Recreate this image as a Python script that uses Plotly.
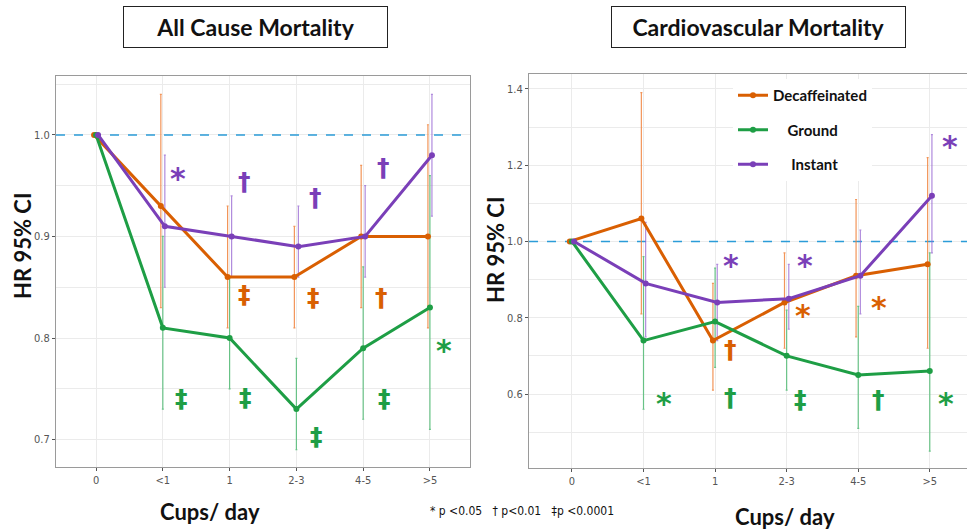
import plotly.graph_objects as go

categories = ['0', '<1', '1', '2-3', '4-5', '>5']
series_names = ['Decaffeinated', 'Ground', 'Instant']
colors = {'Decaffeinated': '#d95f02', 'Ground': '#1e9e45', 'Instant': '#7a3fb8'}
bar_colors = {'Decaffeinated': 'rgba(240,130,60,0.85)', 'Ground': 'rgba(60,180,100,0.75)', 'Instant': 'rgba(150,100,210,0.75)'}

# All cause mortality
ac_decaf = [1.0, 0.93, 0.86, 0.86, 0.90, 0.90]
ac_decaf_lo = [1.0, 0.83, 0.81, 0.81, 0.83, 0.81]
ac_decaf_hi = [1.0, 1.04, 0.93, 0.91, 0.97, 1.01]
ac_ground = [1.0, 0.81, 0.80, 0.73, 0.79, 0.83]
ac_ground_lo = [1.0, 0.73, 0.75, 0.69, 0.72, 0.71]
ac_ground_hi = [1.0, 0.90, 0.86, 0.78, 0.87, 0.96]
ac_instant = [1.0, 0.91, 0.90, 0.89, 0.90, 0.98]
ac_instant_lo = [1.0, 0.85, 0.86, 0.86, 0.86, 0.92]
ac_instant_hi = [1.0, 0.98, 0.94, 0.93, 0.95, 1.04]

# Cardiovascular mortality
cv_decaf = [1.0, 1.06, 0.74, 0.84, 0.91, 0.94]
cv_decaf_lo = [1.0, 0.81, 0.61, 0.72, 0.75, 0.72]
cv_decaf_hi = [1.0, 1.39, 0.89, 0.97, 1.11, 1.22]
cv_ground = [1.0, 0.74, 0.79, 0.70, 0.65, 0.66]
cv_ground_lo = [1.0, 0.56, 0.67, 0.61, 0.51, 0.45]
cv_ground_hi = [1.0, 0.96, 0.93, 0.82, 0.83, 0.97]
cv_instant = [1.0, 0.89, 0.84, 0.85, 0.91, 1.12]
cv_instant_lo = [1.0, 0.75, 0.74, 0.77, 0.81, 0.97]
cv_instant_hi = [1.0, 1.05, 0.94, 0.94, 1.03, 1.28]

# significance markers: (series, x position in category units, y value, symbol)
ac_sig = [
    ('Instant', 1.22, 0.964, '*'), ('Instant', 2.23, 0.954, '†'),
    ('Instant', 3.28, 0.938, '†'), ('Instant', 4.30, 0.968, '†'),
    ('Decaffeinated', 2.22, 0.843, '‡'), ('Decaffeinated', 3.25, 0.840, '‡'),
    ('Decaffeinated', 4.27, 0.840, '†'),
    ('Ground', 5.21, 0.795, '*'), ('Ground', 1.28, 0.740, '‡'),
    ('Ground', 2.24, 0.741, '‡'), ('Ground', 3.30, 0.703, '‡'),
    ('Ground', 4.32, 0.740, '‡'),
]
cv_sig = [
    ('Instant', 5.28, 1.266, '*'), ('Instant', 2.22, 0.955, '*'),
    ('Instant', 3.26, 0.954, '*'),
    ('Decaffeinated', 3.23, 0.824, '*'), ('Decaffeinated', 4.29, 0.846, '*'),
    ('Decaffeinated', 2.21, 0.717, '†'),
    ('Ground', 1.29, 0.593, '*'), ('Ground', 2.21, 0.591, '†'),
    ('Ground', 3.19, 0.586, '‡'), ('Ground', 4.29, 0.586, '†'),
    ('Ground', 5.23, 0.593, '*'),
]

dodge = {'Decaffeinated': -0.03, 'Ground': 0.0, 'Instant': 0.03}
legend_labels = {'Decaffeinated': '<b>Decaffeinated</b>',
                 'Ground': '<b>\u00a0\u00a0\u00a0\u00a0Ground</b>',
                 'Instant': '<b>\u00a0\u00a0\u00a0\u00a0\u00a0Instant</b>'}

panels = [
    ('x', 'y', [-0.6, 5.6], {'Decaffeinated': (ac_decaf, ac_decaf_lo, ac_decaf_hi),
                'Ground': (ac_ground, ac_ground_lo, ac_ground_hi),
                'Instant': (ac_instant, ac_instant_lo, ac_instant_hi)}, ac_sig, False),
    ('x2', 'y2', [-0.6, 5.52], {'Decaffeinated': (cv_decaf, cv_decaf_lo, cv_decaf_hi),
                  'Ground': (cv_ground, cv_ground_lo, cv_ground_hi),
                  'Instant': (cv_instant, cv_instant_lo, cv_instant_hi)}, cv_sig, True),
]

fig = go.Figure()
annotations = []
for xa, ya, xr, data, sig, show in panels:
    # reference line at HR = 1
    fig.add_trace(go.Scatter(x=xr, y=[1.0, 1.0], mode='lines', xaxis=xa, yaxis=ya,
                             line=dict(color='#2b9cd8', width=1.5, dash='dash'),
                             showlegend=False, hoverinfo='skip'))
    # error bars first
    for name in series_names:
        vals, lo, hi = data[name]
        xs = [i + dodge[name] for i in range(len(categories))]
        fig.add_trace(go.Scatter(
            x=xs, y=vals, mode='markers', xaxis=xa, yaxis=ya,
            marker=dict(size=1, color='rgba(0,0,0,0)'),
            error_y=dict(type='data', symmetric=False,
                         array=[h - v for h, v in zip(hi, vals)],
                         arrayminus=[v - l for v, l in zip(vals, lo)],
                         color=bar_colors[name], thickness=1.2, width=1),
            showlegend=False, hoverinfo='skip'))
    for name in series_names:
        vals, lo, hi = data[name]
        xs = [i + dodge[name] for i in range(len(categories))]
        fig.add_trace(go.Scatter(
            x=xs, y=vals, mode='lines+markers', xaxis=xa, yaxis=ya,
            name=legend_labels[name], legendgroup=name,
            line=dict(color=colors[name], width=3),
            marker=dict(color=colors[name], size=6),
            showlegend=show))
    for name, xv, yv, sym in sig:
        if sym == '*':
            f = dict(family='DejaVu Sans', size=30, color=colors[name])
            shift = -7
        else:
            f = dict(family='DejaVu Sans', size=25, color=colors[name])
            shift = 0
        annotations.append(dict(
            x=xv, y=yv, xref=xa, yref=ya, text='<b>%s</b>' % sym, showarrow=False,
            xanchor='center', yanchor='middle', font=f, yshift=shift))

W, H = 967, 530
def px(x):
    return x / W
def py(y):
    return 1 - y / H

tick_font = dict(family='Liberation Sans Narrow, DejaVu Sans Condensed, Arial Narrow', size=11, color='#555555')
grid = '#ebebeb'
axis_common = dict(showline=True, linecolor='#9a9a9a', linewidth=1.2, gridcolor=grid,
                   ticks='outside', ticklen=3, tickcolor='#555555', tickfont=tick_font,
                   zeroline=False)

fig.update_layout(
    width=W, height=H, margin=dict(l=0, r=0, t=0, b=0),
    plot_bgcolor='white', paper_bgcolor='white',
    xaxis=dict(domain=[px(56), px(470)], range=[-0.6, 5.6], tickmode='array',
               tickvals=list(range(len(categories))), ticktext=categories,
               mirror=True, anchor='y', **axis_common),
    yaxis=dict(domain=[py(467), py(76)], range=[0.673, 1.058], tickmode='array',
               tickvals=[0.7, 0.8, 0.9, 1.0], ticktext=['0.7', '0.8', '0.9', '1.0'],
               minor=dict(tick0=0, dtick=0.05, showgrid=True, gridcolor=grid),
               mirror=True, anchor='x', **axis_common),
    xaxis2=dict(domain=[px(529), 1.0], range=[-0.6, 5.52], tickmode='array',
                tickvals=list(range(len(categories))), ticktext=categories,
                mirror=True, anchor='y2', **axis_common),
    yaxis2=dict(domain=[py(468), py(74)], range=[0.406, 1.439], tickmode='array',
                tickvals=[0.6, 0.8, 1.0, 1.2, 1.4], ticktext=['0.6', '0.8', '1.0', '1.2', '1.4'],
                minor=dict(tick0=0, dtick=0.1, showgrid=True, gridcolor=grid),
                mirror=False, anchor='x2', **axis_common),
    showlegend=True,
    legend=dict(x=px(733), y=py(79), xanchor='left', yanchor='top',
                bgcolor='white', borderwidth=0,
                font=dict(family='Lato, Open Sans', size=15, color='#111111'),
                traceorder='grouped', tracegroupgap=12, itemwidth=30),
)

title_font = dict(family='Lato, Open Sans', size=23, color='#111111')
axis_title_font = dict(family='Lato, Open Sans', size=22, color='#111111')
annotations += [
    dict(x=px(255.5), y=py(27), xref='paper', yref='paper', text='<b>All Cause Mortality</b>',
         showarrow=False, font=title_font, bordercolor='#222222', borderwidth=1,
         bgcolor='white', width=263, height=40, borderpad=0, xanchor='center', yanchor='middle'),
    dict(x=px(758.5), y=py(27), xref='paper', yref='paper', text='<b>Cardiovascular Mortality</b>',
         showarrow=False, font=title_font, bordercolor='#222222', borderwidth=1,
         bgcolor='white', width=293, height=40, borderpad=0, xanchor='center', yanchor='middle'),
    dict(x=px(22), y=py(246), xref='paper', yref='paper', text='<b>HR 95% CI</b>',
         textangle=-90, showarrow=False, font=axis_title_font, xanchor='center', yanchor='middle'),
    dict(x=px(495), y=py(250), xref='paper', yref='paper', text='<b>HR 95% CI</b>',
         textangle=-90, showarrow=False, font=axis_title_font, xanchor='center', yanchor='middle'),
    dict(x=px(210), y=py(511), xref='paper', yref='paper', text='<b>Cups/ day</b>',
         showarrow=False, font=axis_title_font, xanchor='center', yanchor='middle'),
    dict(x=px(785), y=py(516), xref='paper', yref='paper', text='<b>Cups/ day</b>',
         showarrow=False, font=axis_title_font, xanchor='center', yanchor='middle'),
    dict(x=px(522), y=py(511), xref='paper', yref='paper',
         text='* p &lt;0.05   † p&lt;0.01   ‡p &lt;0.0001', showarrow=False,
         xanchor='center', yanchor='middle',
         font=dict(family='Liberation Sans Narrow, DejaVu Sans Condensed', size=12, color='#111111')),
]
fig.update_layout(annotations=annotations)

fig.write_html('out.html')
